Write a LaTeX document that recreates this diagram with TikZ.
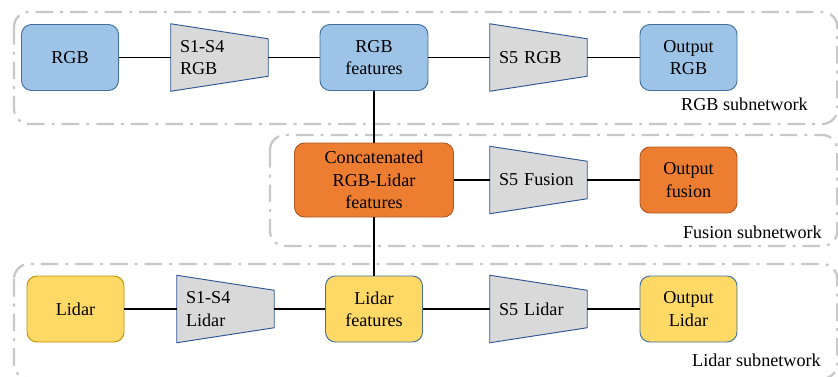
\documentclass[tikz,border=0pt]{standalone}
\usepackage{fontspec}
\setmainfont{Liberation Serif}
\usepackage{tikz}
\usetikzlibrary{shapes,arrows,calc,backgrounds}
\usepackage{xcolor}
\definecolor{rgbfill}{HTML}{9DC3E6}
\definecolor{rgbline}{HTML}{41719C}
\definecolor{fusfill}{HTML}{ED7D31}
\definecolor{fusline}{HTML}{AE5A21}
\definecolor{lidfill}{HTML}{FFD966}
\definecolor{lidline}{HTML}{BF9000}
\definecolor{trapfill}{HTML}{D9D9D9}
\definecolor{trapline}{HTML}{2F5597}
\definecolor{groupgray}{HTML}{C8C8C8}
\tikzstyle{block} = [rectangle, draw=rgbline, fill=rgbfill, align=center, rounded corners=0.3cm, %
minimum width=2.91cm, minimum height=1.98cm, line width=0.8pt, font=\fontsize{15.5}{19}\selectfont]
\tikzstyle{fusblock} = [block, draw=fusline, fill=fusfill]
\tikzstyle{lidblock} = [block, fill=lidfill]
\tikzstyle{stage} = [rectangle, text width=2.37cm, align=left, inner sep=0pt, %
minimum width=2.91cm, minimum height=2.01cm, font=\fontsize{15.5}{19}\selectfont]
\tikzstyle{trap} = [draw=trapline, fill=trapfill, line width=0.8pt]
\tikzstyle{link} = [draw, line width=1.4pt]
\tikzstyle{group} = [draw=groupgray, line width=2pt, rounded corners=0.45cm, %
dash pattern=on 15pt off 6pt on 2.5pt off 6pt]
\tikzstyle{netlabel} = [anchor=east, inner sep=0pt, font=\fontsize{15.5}{19}\selectfont]

\begin{document}
\begin{tikzpicture}[scale=1, auto]
    \useasboundingbox (0,0) rectangle (25.14,-11.28);
    % RGB branch
    \node[block] (rgb) at (2.1,-1.725) {RGB};
    \node[stage, right of=rgb, node distance=4.485cm] (s14rgb) {S1-S4\\RGB};
    \node[block, right of=s14rgb, node distance=4.635cm, minimum width=3.24cm] (rgbfeat) {RGB\\features};
    \node[stage, right of=rgbfeat, node distance=4.935cm] (s5rgb) {S5 RGB};
    \node[block, right of=s5rgb, node distance=4.5cm] (outrgb) {Output\\RGB};
    % fusion branch
    \node[fusblock, below of=rgbfeat, node distance=3.675cm, minimum width=4.77cm, minimum height=2.22cm] (concat) {Concatenated\\RGB-Lidar\\features};
    \node[stage, right of=concat, node distance=4.935cm] (s5fus) {S5 Fusion};
    \node[fusblock, right of=s5fus, node distance=4.5cm] (outfus) {Output\\fusion};
    % Lidar branch
    \node[lidblock, below of=concat, node distance=3.87cm] (lidfeat) {Lidar\\features};
    \node[stage, left of=lidfeat, node distance=4.455cm] (s14lid) {S1-S4\\Lidar};
    \node[lidblock, draw=lidline, left of=s14lid, node distance=4.5cm] (lid) {Lidar};
    \node[stage, right of=lidfeat, node distance=4.935cm] (s5lid) {S5 Lidar};
    \node[lidblock, right of=s5lid, node distance=4.5cm] (outlid) {Output\\Lidar};
    % subnetwork labels
    \node[netlabel] (rgbnet) at (24.24,-3.12) {RGB subnetwork};
    \node[netlabel] (fusnet) at (24.66,-6.96) {Fusion subnetwork};
    \node[netlabel] (lidnet) at (24.63,-10.8) {Lidar subnetwork};
    % encoder stages and groups behind the text
    \begin{pgfonlayer}{background}
    \path[group] (0.42,-0.36) rectangle (25.12,-3.72);
    \path[group] (8.1,-4.05) rectangle (25.12,-7.38);
    \path[group] (0.42,-7.92) rectangle (25.12,-11.36);
    \foreach \n in {s14rgb,s5rgb,s5fus,s14lid,s5lid}
        \path[trap] (\n.north west) -- ($(\n.north east)+(0,-0.45)$) -- ($(\n.south east)+(0,0.45)$) -- (\n.south west) -- cycle;
    \end{pgfonlayer}
    % draw links
    \path[link] (rgb) -- (s14rgb);
    \path[link] (s14rgb) -- (rgbfeat);
    \path[link] (rgbfeat) -- (s5rgb);
    \path[link] (s5rgb) -- (outrgb);
    \path[link] (rgbfeat) -- (concat);
    \path[link] (concat) -- (s5fus);
    \path[link] (s5fus) -- (outfus);
    \path[link] (concat) -- (lidfeat);
    \path[link] (lid) -- (s14lid);
    \path[link] (s14lid) -- (lidfeat);
    \path[link] (lidfeat) -- (s5lid);
    \path[link] (s5lid) -- (outlid);
  \end{tikzpicture}
\end{document}
